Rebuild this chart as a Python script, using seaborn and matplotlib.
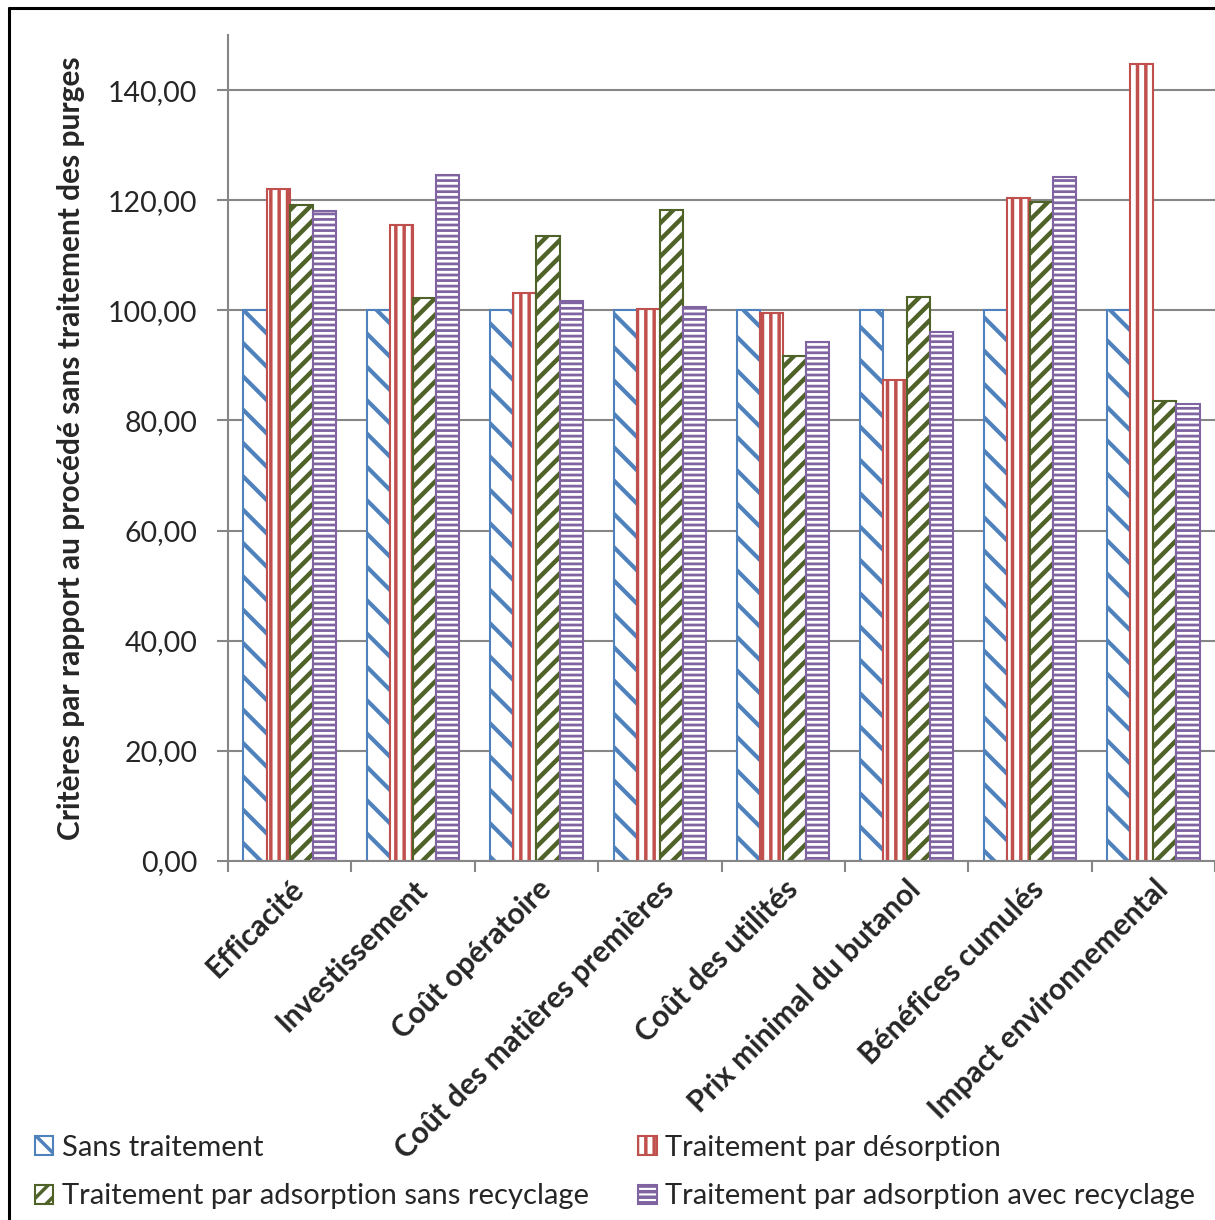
import numpy as np
import pandas as pd
import matplotlib
matplotlib.use("Agg")
import matplotlib.pyplot as plt
import seaborn as sns
from matplotlib.lines import Line2D
from matplotlib.ticker import FuncFormatter, MultipleLocator

# Données
criteres = ["Efficacité", "Investissement", "Coût opératoire",
            "Coût des matières premières", "Coût des utilités",
            "Prix minimal du butanol", "Bénéfices cumulés",
            "Impact environnemental"]
series = ["Sans traitement", "Traitement par désorption",
          "Traitement par adsorption sans recyclage",
          "Traitement par adsorption avec recyclage"]
sans_traitement = [100, 100, 100, 100, 100, 100, 100, 100]
desorption = [122.0, 115.5, 103.1, 100.2, 99.5, 87.3, 120.4, 144.7]
adsorption_sans = [119.1, 102.2, 113.5, 118.2, 91.7, 102.4, 119.7, 83.5]
adsorption_avec = [118.0, 124.6, 101.7, 100.6, 94.2, 96.1, 124.2, 83.0]

couleurs = ["#4F81BD", "#C0504D", "#4F6228", "#8064A2"]
hachures = ["\\", "||", "//", "---"]
epaisseurs = [3.0, 2.5, 3.2, 2.0]

sns.set_theme(style="white")
plt.rcParams["font.family"] = ["Lato", "DejaVu Sans"]
plt.rcParams["hatch.linewidth"] = 2.5

df = pd.DataFrame({
    "critere": criteres * 4,
    "serie": np.repeat(series, len(criteres)),
    "valeur": sans_traitement + desorption + adsorption_sans + adsorption_avec,
})

fig = plt.figure(figsize=(12.15, 12.2), dpi=100)
ax = fig.add_axes([228 / 1215, 1 - 861 / 1220, 1 - 228 / 1215, (861 - 35) / 1220])

sns.barplot(data=df, x="critere", y="valeur", hue="serie", hue_order=series,
            palette=couleurs, width=0.75, gap=0, ax=ax, legend=False)

for cont, col, h, lw in zip(ax.containers, couleurs, hachures, epaisseurs):
    for p in cont.patches:
        p.set_facecolor("white")
        p.set_edgecolor(col)
        p.set_hatch(h)
        p.set_linewidth(1.5)
        if hasattr(p, "set_hatch_linewidth"):
            p.set_hatch_linewidth(lw)

ax.set_ylim(0, 150)
ax.set_xlim(-0.5, len(criteres) - 0.5)
ax.yaxis.set_major_locator(MultipleLocator(20))
ax.yaxis.set_major_formatter(FuncFormatter(lambda v, _: f"{v:.2f}".replace(".", ",")))
ax.yaxis.grid(True, color="#868686", linewidth=1.5)
ax.set_axisbelow(True)

# ticks x aux limites de catégories
ax.set_xticks(np.arange(-0.5, len(criteres), 1.0))
ax.set_xticklabels([])
ax.set_xticks(np.arange(len(criteres)), minor=True)
ax.set_xticklabels(criteres, minor=True, rotation=45, ha="right",
                   rotation_mode="anchor", fontsize=21.5, fontweight="bold")
ax.tick_params(axis="x", which="minor", length=0, pad=10)
ax.tick_params(axis="x", which="major", length=8, width=1.5, color="#868686",
               direction="out", bottom=True)
ax.tick_params(axis="y", length=8, width=1.5, color="#868686", direction="out",
               left=True, pad=14, labelsize=20.5)

for s in ["top", "right"]:
    ax.spines[s].set_visible(False)
for s in ["left", "bottom"]:
    ax.spines[s].set_color("#868686")
    ax.spines[s].set_linewidth(1.5)

ax.set_xlabel("")
ax.set_ylabel("Critères par rapport au procédé sans traitement des purges",
              fontsize=21.5, fontweight="bold")
ax.yaxis.set_label_coords(-0.145, 0.5)

# légende en bas, deux colonnes
poignees = [c.patches[0] for c in ax.containers]
ordre = [0, 2, 1, 3]
fig.legend([poignees[i] for i in ordre], [series[i] for i in ordre],
           loc="upper left", bbox_to_anchor=(35 / 1215, 1 - 1135 / 1220),
           ncol=2, frameon=False, fontsize=21, handlelength=0.62,
           handleheight=0.62, handletextpad=0.3, columnspacing=1.7,
           labelspacing=0.77, borderpad=0, borderaxespad=0)

# cadre du graphique
fig.add_artist(Line2D([9 / 1215, 9 / 1215], [0, 1 - 8 / 1220],
                      transform=fig.transFigure, color="black", linewidth=2.2))
fig.add_artist(Line2D([9 / 1215, 1], [1 - 8 / 1220, 1 - 8 / 1220],
                      transform=fig.transFigure, color="black", linewidth=2.2))

fig.savefig("out.png", dpi=100)
